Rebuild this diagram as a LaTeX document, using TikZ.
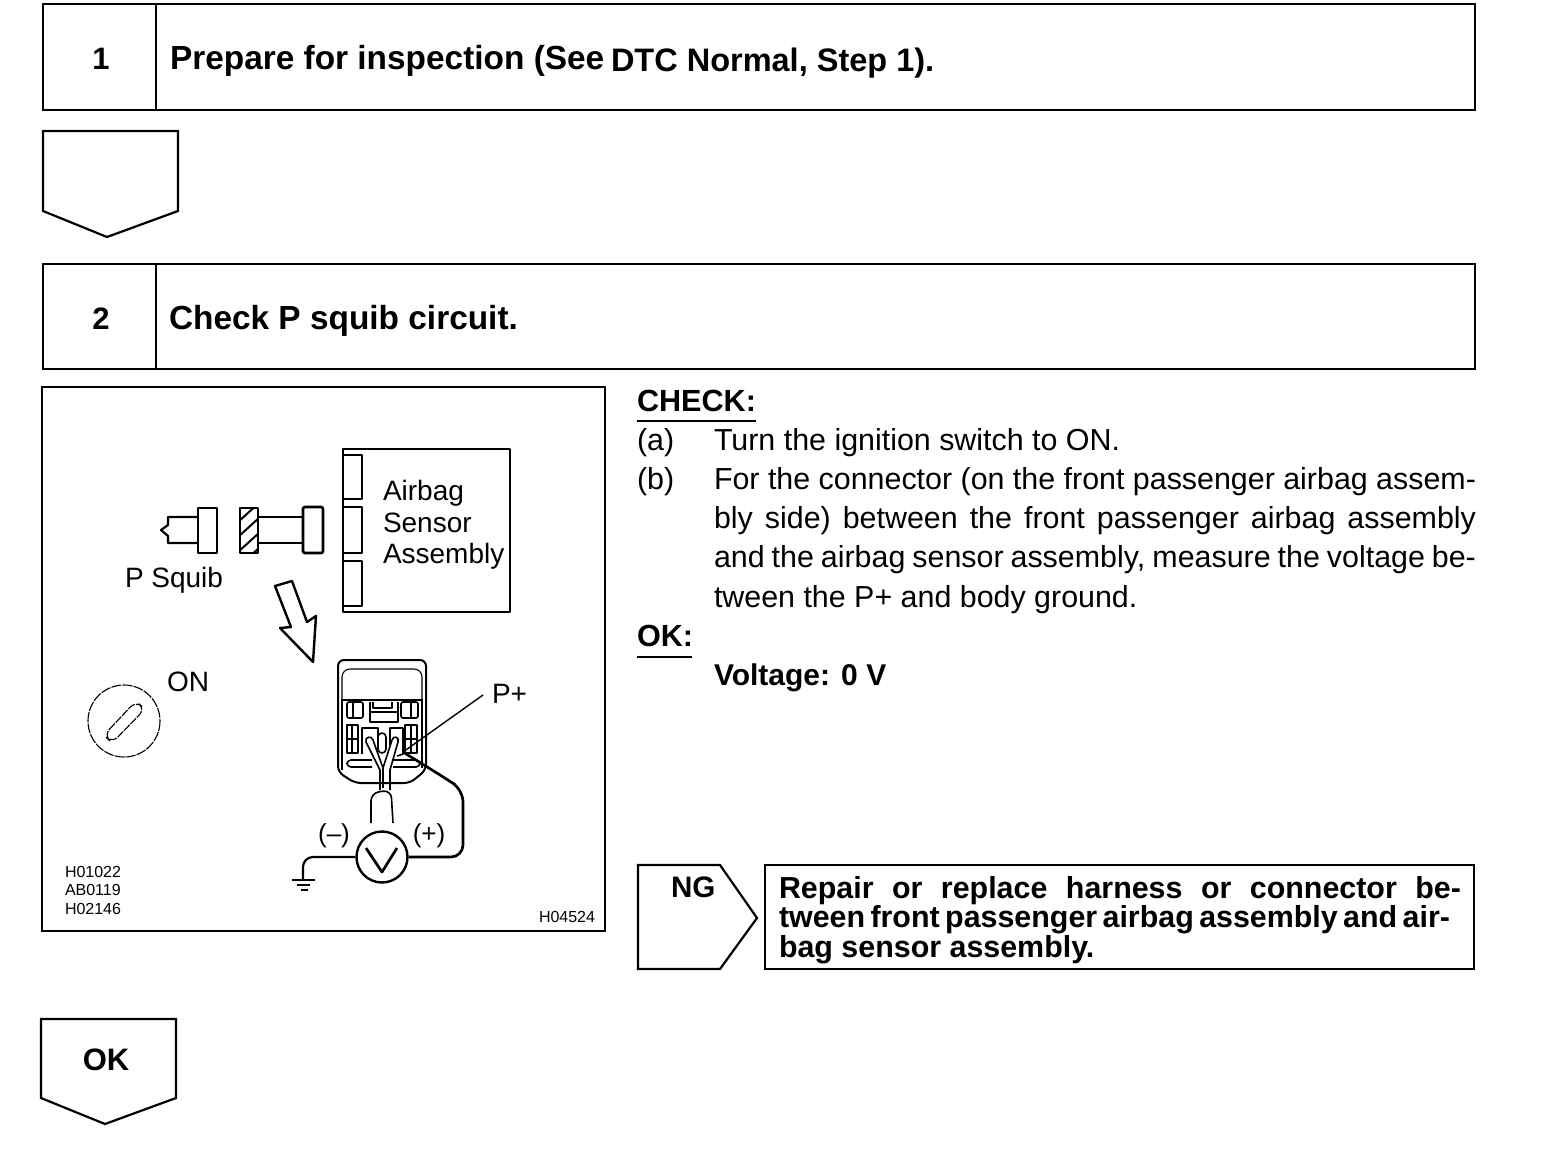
\documentclass[tikz,border=0pt]{standalone}
\usepackage{fontspec}
\setmainfont{Liberation Sans}
\newcommand{\fsz}[1]{\fontsize{#1}{#1}\selectfont}
\tikzset{
  x=0.5pt,y=-0.5pt,
  frameline/.style={draw=black,line width=1.35pt,line join=miter},
  thinline/.style={draw=black,line width=0.8pt,line join=round},
  heavyline/.style={draw=black,line width=1.35pt,line join=round},
  fineline/.style={draw=black,line width=0.55pt,line join=round},
  txt/.style={inner sep=0pt,outer sep=0pt,anchor=base west,font=\fsz{15.2}},
  bold/.style={txt,font=\fsz{16.7}\bfseries},
  boldm/.style={txt,font=\fsz{15.2}\bfseries},
  lab/.style={inner sep=0pt,outer sep=0pt,anchor=base west,font=\fsz{14}},
  code/.style={inner sep=0pt,outer sep=0pt,anchor=base west,font=\fsz{8}},
  numb/.style={inner sep=0pt,outer sep=0pt,anchor=base,font=\fsz{15.5}\bfseries},
  box/.style={frameline,inner sep=0pt,outer sep=0pt,anchor=north west},
}
\begin{document}
\begin{tikzpicture}
\useasboundingbox (0,0) rectangle (1568,1162);
% step 1
\node[box,minimum width=716pt,minimum height=53pt] (s1) at (43,4) {};
\draw[frameline] (156,4) -- (156,110);
\node[numb] (n1) at (101,69) {1};
\node[bold] (t1a) at (170,69) {Prepare for inspection (See};
\node[bold,font=\fsz{16.25}\bfseries] (t1b) at (611,71) {DTC Normal, Step 1).};
% arrow
\draw[frameline,line width=1.1pt] (43,131) -- (178,131) -- (178,211) -- (107,237) -- (43,211) -- cycle;
% step 2
\node[box,minimum width=716pt,minimum height=52.5pt] (s2) at (43,264) {};
\draw[frameline] (156,264) -- (156,369);
\node[numb] (n2) at (101,329) {2};
\node[bold] (t2) at (169,329) {Check P squib circuit.};
% figure frame
\node[box,minimum width=281.5pt,minimum height=272pt] (fig) at (42,387) {};
% airbag box
\draw[heavyline] (343,449) rectangle (510,612);
\draw[thinline] (343,455) rectangle (362,499);
\draw[thinline] (343,507) rectangle (362,553);
\draw[thinline] (343,561) rectangle (362,606);
\node[lab] (a1) at (383,500) {Airbag};
\node[lab] (a2) at (383,532) {Sensor};
\node[lab] (a3) at (383,563) {Assembly};
% squib
\draw[heavyline] (198,508) rectangle (217,553);
\draw[thinline,line width=1.1pt] (198,517) -- (168,517) -- (168,525) -- (161,530) -- (168,536) -- (168,543) -- (198,543);
\begin{scope}
\clip (240,508) rectangle (258,553);
\foreach \yy in {522,537,552,567} \draw[thinline,line width=1pt] (238,\yy) -- (260,\yy-20);
\end{scope}
\draw[heavyline] (240,508) rectangle (258,553);
\draw[thinline,line width=1.1pt] (258,517) -- (303,517) (258,543) -- (303,543);
\draw[heavyline,rounded corners=1pt] (303,507) rectangle (323,553);
\node[lab] (ps) at (125,587) {P Squib};
% big arrow
\draw[thinline,line width=1.2pt] (275,586) -- (292,581) -- (307,622) -- (316,616) -- (313,662) -- (280,628) -- (291,627) -- cycle;
% key
\draw[fineline,dash pattern=on 5pt off 0.6pt] (124,721) circle (36);
\draw[fineline,dash pattern=on 4pt off 0.6pt,rounded corners=4pt] (104,735) -- (136,701) -- (145,709) -- (112,743) -- cycle;
\node[lab] (on) at (167,691) {ON};
% connector
\draw[thinline,line width=1pt,rounded corners=3pt] (338,772) -- (338,660) -- (426,660) -- (426,770) -- (410,783) -- (355,783) -- cycle;
\draw[fineline,rounded corners=4pt] (342,700) -- (342,669) -- (422,669) -- (422,700);
\draw[fineline] (341,700) -- (423,700);
\draw[fineline] (342,700) -- (342,770) (422,700) -- (422,768);
\draw[thinline,rounded corners=1pt] (347,702) rectangle (363,718);
\draw[fineline] (353,702) -- (353,718);
\draw[thinline,rounded corners=1pt] (401,702) rectangle (418,718);
\draw[fineline] (411,702) -- (411,718);
\draw[thinline] (370,702) -- (370,722) -- (398,722) -- (398,702);
\draw[thinline] (373,702) -- (373,708) -- (392,708) -- (392,702);
\draw[fineline] (370,712) -- (398,712);
\draw[thinline] (347,725) rectangle (358,753);
\draw[fineline] (352,725) -- (352,753) (347,739) -- (358,739);
\draw[thinline] (405,725) rectangle (417,753);
\draw[fineline] (411,725) -- (411,753) (405,739) -- (417,739);
\draw[thinline] (362,754) -- (362,728) -- (378,728) -- (378,745);
\draw[thinline] (390,745) -- (390,728) -- (403,728) -- (403,754) -- (397,756);
\draw[thinline,rounded corners=2pt] (378,733) rectangle (386,753);
\draw[thinline,rounded corners=2pt] (372,760) -- (347,760) -- (347,767) -- (372,767);
\draw[thinline,rounded corners=2pt] (393,760) -- (420,760) -- (420,767) -- (393,767);
% probes
\draw[thinline] (366,742) .. controls (364,737) and (372,735) .. (373,740) -- (383,768) -- (392,740) .. controls (393,735) and (400,737) .. (398,742) -- (390,770) -- (390,790);
\draw[thinline] (366,742) -- (380,770) -- (380,790);
\draw[fineline] (383,768) -- (383,788);
\draw[thinline,rounded corners=4pt] (371,823) -- (371,793) -- (391,790) -- (393,823);
% P+
\node[lab] (pp) at (492,703) {P+};
\coordinate (ppin) at (403,752);
\draw[fineline,line width=0.7pt] (483,695) -- (ppin);
% meter
\node[draw=black,line width=1.2pt,circle,minimum size=25.5pt,inner sep=0pt] (vm) at (382,857) {};
\draw[thinline,line width=1.35pt] (366,848) -- (382,872) -- (397,848);
\node[lab,anchor=center,font=\fsz{13}] (minus) at (334,836) {(–)};
\node[lab,anchor=center,font=\fsz{13}] (plus) at (429,836) {(+)};
\coordinate (gnd) at (303,880);
\draw[thinline,line width=1.1pt,rounded corners=5pt] (vm.west) -- (303,857) -- (gnd);
\draw[thinline] (292,880) -- (315,880) (297,885) -- (310,885) (301,890) -- (308,890);
\draw[heavyline,rounded corners=6pt] (vm.east) -- (463,857) -- (463,790) -- (445,778) -- (ppin);
% codes
\node[code] (c1) at (65,877) {H01022};
\node[code] (c2) at (65,895) {AB0119};
\node[code] (c3) at (65,914) {H02146};
\node[code] (c4) at (539,922) {H04524};
% check
\node[bold,font=\fsz{15.3}\bfseries] (chk) at (637,411) {CHECK:};
\draw[thinline,line width=0.7pt] (637,421) -- (756,421);
\node[txt] (la) at (637,450) {(a)};
\node[txt] (ta) at (714,450) {Turn the ignition switch to ON.};
\node[txt] (lb) at (637,489) {(b)};
\node[txt] (tb1) at (714,489) {\makebox[381pt][s]{For the connector (on the front passenger airbag assem-}};
\node[txt] (tb2) at (714,528) {\makebox[381pt][s]{bly side) between the front passenger airbag assembly}};
\node[txt] (tb3) at (714,567) {\makebox[381pt][s]{and the airbag sensor assembly, measure the voltage be-}};
\node[txt] (tb4) at (714,607) {tween the P+ and body ground.};
\node[bold,font=\fsz{15.3}\bfseries] (ok1) at (637,646) {OK:};
\draw[thinline,line width=0.7pt] (637,657) -- (692,657);
\node[bold,font=\fsz{15}\bfseries] (vv) at (714,685) {Voltage: 0 V};
% NG
\draw[frameline,line width=1.1pt] (638,865) -- (720,865) -- (757,918) -- (720,969) -- (638,969) -- cycle;
\node[bold,font=\fsz{14.8}\bfseries] (ng) at (671,897) {NG};
\node[box,minimum width=354.5pt,minimum height=52pt] (rep) at (765,865) {};
\node[boldm] (r1) at (779,898) {\spaceskip=0.25em plus 1em minus 0.1em\makebox[341pt][s]{Repair or replace harness or connector be-}};
\node[boldm] (r2) at (779,927) {\spaceskip=0.2em plus 1em minus 0.1em\makebox[335.5pt][s]{tween front passenger airbag assembly and air-}};
\node[boldm] (r3) at (779,957) {bag sensor assembly.};
% OK arrow
\draw[frameline,line width=1.1pt] (41,1019) -- (176,1019) -- (176,1098) -- (105,1124) -- (41,1098) -- cycle;
\node[numb] (okl) at (106,1070) {OK};
\end{tikzpicture}
\end{document}
